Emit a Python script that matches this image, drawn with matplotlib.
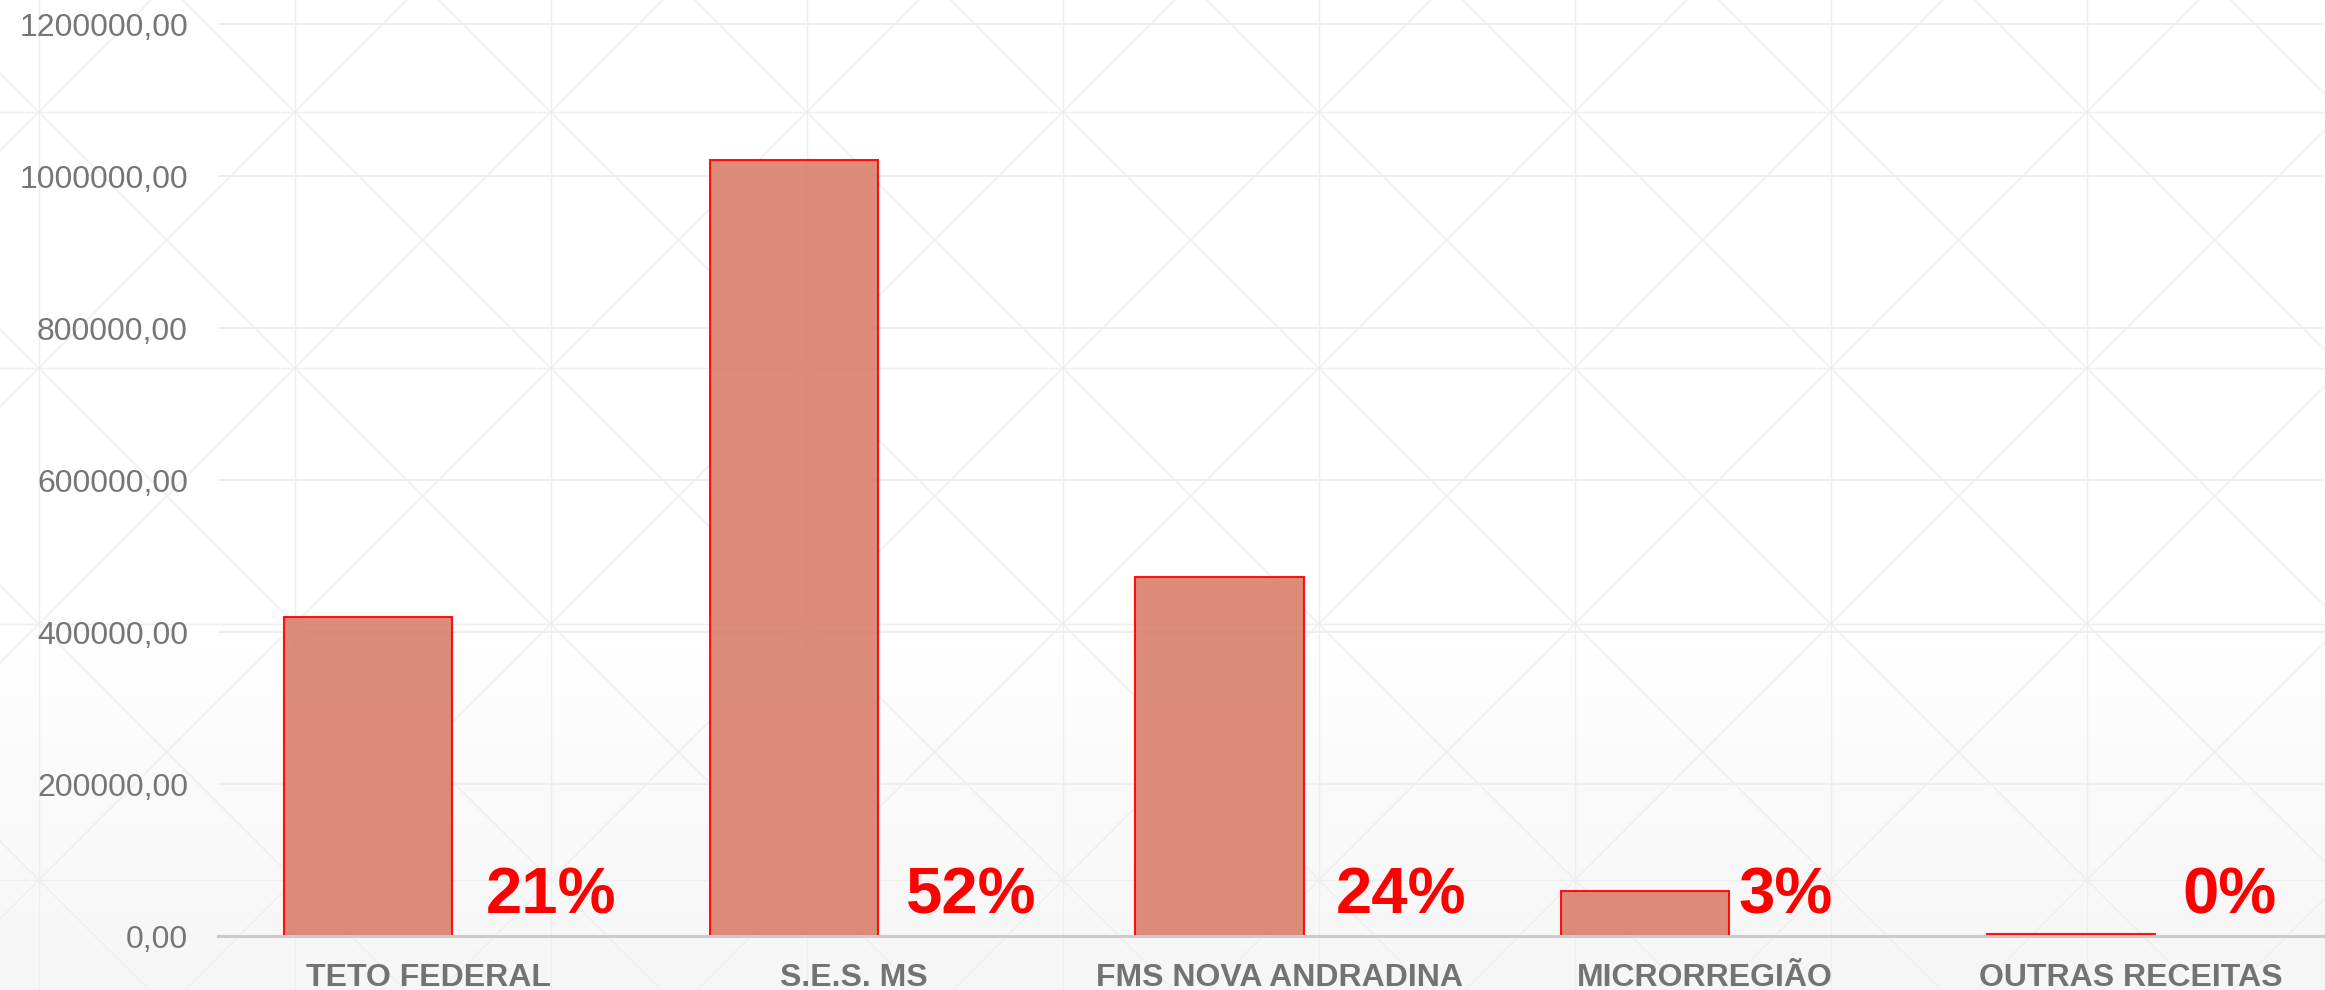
"""Bar chart of revenue sources with percentage labels (recreated)."""

import numpy as np
import matplotlib
matplotlib.use("Agg")
import matplotlib.pyplot as plt

plt.rcParams["font.family"] = ["Liberation Sans", "DejaVu Sans"]

# ---- data ----
categories = ["TETO FEDERAL", "S.E.S. MS", "FMS NOVA ANDRADINA", "MICRORREGIÃO", "OUTRAS RECEITAS"]
values = [419300, 1021000, 472000, 59200, 2500]
pct_labels = ["21%", "52%", "24%", "3%", "0%"]
y_ticks = [0, 200000, 400000, 600000, 800000, 1000000, 1200000]

# ---- style ----
W, H, DPI = 2325, 990, 100
grey_txt = "#767676"
bar_face = "#D9826D"
bar_edge = "#FF0000"
pct_dx = [0.080, 0.066, 0.076, 0.022, 0.064]  # gap between bar edge and % label
bar_w = 0.395
bar_off = -0.141

fig = plt.figure(figsize=(W / DPI, H / DPI), dpi=DPI)

# background: soft vertical gradient + faint triangle lattice
bg = fig.add_axes([0, 0, 1, 1], zorder=-1)
bg.set_xlim(0, W); bg.set_ylim(H, 0); bg.axis("off")
rows = np.arange(H)
shade = np.where(rows < 610, 1.0, 1.0 - 0.035 * (rows - 610) / (H - 610))
img = np.repeat(np.repeat(shade[:, None, None], 3, axis=2), 4, axis=1)
bg.imshow(img, extent=(0, W, H, 0), aspect="auto", interpolation="nearest")
pat = dict(color="#EEEEEE", lw=1.0)
for xv in np.arange(39, W, 256):
    bg.axvline(xv, **pat)
for yv in np.arange(880, 0, -256):
    bg.axhline(yv, **pat)
span = np.array([-H, W + H])
for c in np.arange(183 - 256 * 6, W + 256, 256):
    bg.plot(span, span - c, **pat)
for c in np.arange(151, W + H + 256, 256):
    bg.plot(span, c - span, **pat)

# main axes
ax = fig.add_axes([218 / W, 54 / H, (W - 218) / W, 936 / H])
ax.patch.set_alpha(0)
x = np.arange(len(categories))
ax.bar(x + bar_off, values, width=bar_w, color=bar_face, alpha=0.92,
       edgecolor=bar_edge, linewidth=1.5, zorder=3)

ax.set_xlim(-0.4933, 4.4556)
ax.set_ylim(0, 936 / 760 * 1e6)
ax.set_yticks(y_ticks)
ax.set_yticklabels([f"{v:.2f}".replace(".", ",") for v in y_ticks],
                   fontsize=23, color=grey_txt)
ax.tick_params(axis="y", length=0, pad=21.6)
ax.set_xticks([])
ax.grid(axis="y", color="#EEEEEE", lw=1.5, zorder=0)
for s in ["top", "right", "left"]:
    ax.spines[s].set_visible(False)
ax.spines["bottom"].set_color("#CCCCCC")
ax.spines["bottom"].set_linewidth(2.2)
ax.spines["bottom"].set_zorder(4)

label_y = -(50 / 760) * 1e6
for xi, cat in zip(x, categories):
    ax.text(xi, label_y, cat, ha="center", va="baseline", fontsize=23,
            fontweight="bold", color="#737373", clip_on=False)

pct_y = (23 / 760) * 1e6
for xi, p, dx in zip(x, pct_labels, pct_dx):
    ax.text(xi + bar_off + bar_w / 2 + dx, pct_y, p, ha="left", va="baseline",
            fontsize=47, fontweight="bold", color="#FF0000", zorder=5)

fig.savefig("out.png", dpi=DPI)
